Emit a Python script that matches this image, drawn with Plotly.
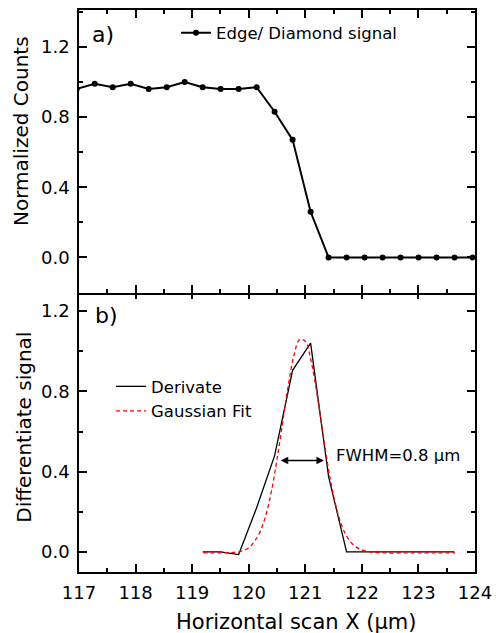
import plotly.graph_objects as go

# ---- data ----
x_scan = [116.96, 117.278, 117.596, 117.914, 118.232, 118.55, 118.868, 119.186,
          119.504, 119.822, 120.14, 120.458, 120.776, 121.094, 121.412, 121.73,
          122.048, 122.366, 122.684, 123.002, 123.32, 123.638, 123.956]
counts = [0.96, 0.99, 0.97, 0.99, 0.96, 0.97, 1.00, 0.97, 0.96, 0.96, 0.97,
          0.83, 0.67, 0.26, 0.00, 0.00, 0.00, 0.00, 0.00, 0.00, 0.00, 0.00, 0.00]

x_deriv = [119.186, 119.504, 119.822, 120.14, 120.458, 120.776, 121.094, 121.412,
           121.73, 122.048, 122.366, 122.684, 123.002, 123.32, 123.638]
deriv = [0.00, 0.00, -0.013, 0.22, 0.48, 0.905, 1.04, 0.375,
         0.00, 0.00, 0.00, 0.00, 0.00, 0.00, 0.00]

x_fit = [119.2, 119.4, 119.6, 119.7, 119.8, 119.9, 120.0, 120.1, 120.2, 120.3,
         120.4, 120.5, 120.6, 120.7, 120.8, 120.9, 121.0, 121.1, 121.2, 121.3,
         121.4, 121.5, 121.6, 121.7, 121.8, 121.9, 122.0, 122.1, 122.2, 122.4,
         122.8, 123.2, 123.65]
fit = [-0.005, -0.005, -0.004, -0.003, 0.000, 0.006, 0.020, 0.052, 0.100, 0.180,
       0.300, 0.460, 0.645, 0.830, 0.980, 1.058, 1.050, 0.955, 0.800, 0.612,
       0.430, 0.280, 0.168, 0.095, 0.050, 0.024, 0.010, 0.003, -0.002, -0.005,
       -0.005, -0.005, -0.005]

fwhm_left, fwhm_right, fwhm_y = 120.54, 121.33, 0.455

FONT = "DejaVu Sans"
LW = 1.5

fig = go.Figure()
fig.add_trace(go.Scatter(x=x_scan, y=counts, mode="lines+markers",
                         name="Edge/ Diamond signal", xaxis="x2", yaxis="y2",
                         line=dict(color="black", width=2),
                         marker=dict(color="black", size=6), legend="legend"))
fig.add_trace(go.Scatter(x=x_deriv, y=deriv, mode="lines", name="Derivate",
                         xaxis="x", yaxis="y", line=dict(color="black", width=1.3),
                         legend="legend2"))
fig.add_trace(go.Scatter(x=x_fit, y=fit, mode="lines", name="Gaussian Fit",
                         xaxis="x", yaxis="y", line_shape="spline",
                         line=dict(color="red", width=1.3, dash="4px,3px"),
                         legend="legend2"))

B = 0.5
OVERLAP = LW / 562.0
axis_common = dict(showline=True, linecolor="black", linewidth=LW, mirror="allticks",
                   ticks="inside", ticklen=8, tickwidth=1.5, tickcolor="black",
                   showgrid=False, zeroline=False, automargin=False,
                   tickfont=dict(family=FONT, size=18, color="black"))
xminor = dict(ticks="inside", ticklen=4, tickwidth=1.5, tickcolor="black", dtick=0.5, showgrid=False)
yminor = dict(ticks="inside", ticklen=4, tickwidth=1.5, tickcolor="black", dtick=0.2, showgrid=False)

fig.update_layout(
    template="none",
    width=496, height=633,
    margin=dict(l=79, r=21, t=10, b=61, autoexpand=False),
    paper_bgcolor="white", plot_bgcolor="white",
    font=dict(family=FONT, color="black"),
    xaxis=dict(axis_common, range=[117, 124], dtick=1, tick0=117, anchor="y",
               minor=xminor, ticklabelstandoff=4),
    yaxis=dict(axis_common, range=[-0.1, 1.3], dtick=0.4, tick0=0, tickformat=".1f",
               domain=[0, B], anchor="x", minor=yminor, ticklabelstandoff=4),
    xaxis2=dict(axis_common, range=[117, 124], dtick=1, tick0=117, anchor="y2",
                showticklabels=False, minor=xminor),
    yaxis2=dict(axis_common, range=[-0.2, 1.41], dtick=0.4, tick0=0, tickformat=".1f",
                domain=[B - OVERLAP, 1], anchor="x2", minor=yminor, ticklabelstandoff=4),
    legend=dict(x=0.245, y=0.990, xanchor="left", yanchor="top", borderwidth=0,
                bgcolor="rgba(0,0,0,0)", font=dict(family=FONT, size=16.5)),
    legend2=dict(x=0.081, y=0.361, xanchor="left", yanchor="top", borderwidth=0,
                 bgcolor="rgba(0,0,0,0)", font=dict(family=FONT, size=16.5)),
    showlegend=True,
)

annotations = [
    dict(text="a)", xref="x2 domain", yref="y2 domain", x=0.028, y=0.915,
         xanchor="left", yanchor="middle", showarrow=False, font=dict(size=22)),
    dict(text="b)", xref="x domain", yref="y domain", x=0.035, y=0.912,
         xanchor="left", yanchor="middle", showarrow=False, font=dict(size=22)),
    dict(text="FWHM=0.8 μm", xref="x", yref="y", x=121.51, y=0.48,
         xanchor="left", yanchor="middle", showarrow=False, font=dict(size=16.5)),
    dict(text="", xref="x", yref="y", x=fwhm_right, y=fwhm_y,
         axref="x", ayref="y", ax=fwhm_left, ay=fwhm_y, showarrow=True,
         arrowhead=2, arrowside="end+start", arrowwidth=1.5, arrowsize=1, arrowcolor="black"),
    dict(text="Normalized Counts", xref="paper", yref="paper", x=-0.146, y=0.785,
         xanchor="center", yanchor="middle", textangle=-90, showarrow=False,
         font=dict(size=20)),
    dict(text="Differentiate signal", xref="paper", yref="paper", x=-0.141, y=0.257,
         xanchor="center", yanchor="middle", textangle=-90, showarrow=False,
         font=dict(size=20)),
    dict(text="Horizontal scan X (μm)", xref="paper", yref="paper", x=0.55, y=-0.0884,
         xanchor="center", yanchor="middle", showarrow=False, font=dict(size=21)),
]
fig.update_layout(annotations=annotations)

fig.write_html("out.html", config={"displayModeBar": False},
               post_script="document.body.style.margin='0';document.body.style.overflow='hidden';")
